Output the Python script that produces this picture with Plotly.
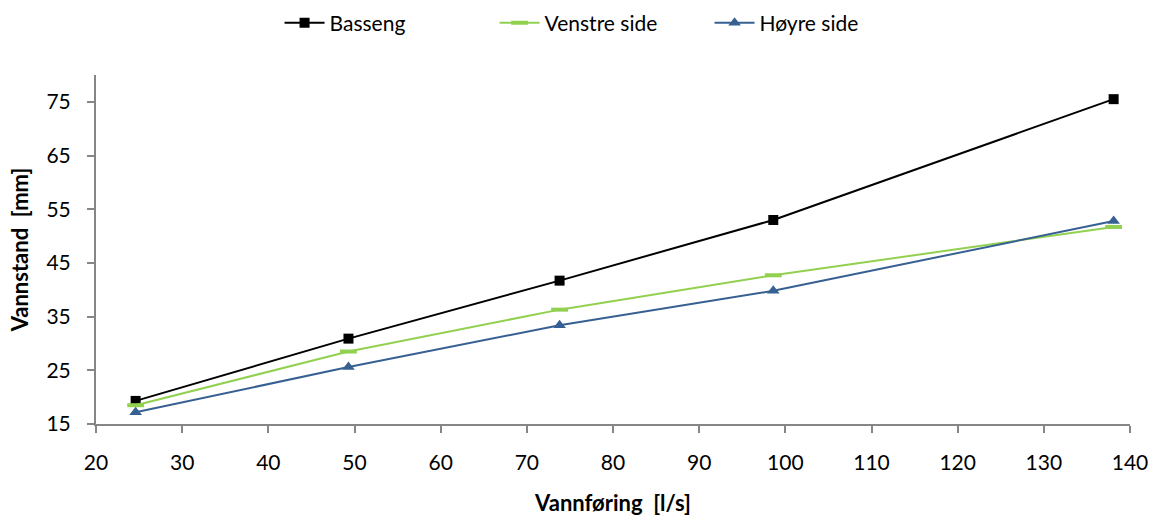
import plotly.graph_objects as go

# Vannføring (l/s) and measured water levels (mm)
vannforing = [24.6, 49.3, 73.8, 98.6, 138.1]
basseng = [19.3, 30.9, 41.7, 53.0, 75.5]
venstre_side = [18.5, 28.5, 36.3, 42.7, 51.7]
hoyre_side = [17.2, 25.6, 33.4, 39.8, 52.8]

FONT = "Lato"
AXIS_GREY = "#868686"

fig = go.Figure()
fig.add_trace(go.Scatter(
    x=vannforing, y=basseng, name="Basseng", mode="lines+markers",
    line=dict(color="#000000", width=2),
    marker=dict(symbol="square", size=10, color="#000000"),
))
fig.add_trace(go.Scatter(
    x=vannforing, y=venstre_side, name="Venstre side", mode="lines+markers",
    line=dict(color="#92D050", width=2),
    marker=dict(symbol="line-ew", size=12, color="#92D050",
                line=dict(color="#92D050", width=4)),
))
fig.add_trace(go.Scatter(
    x=vannforing, y=hoyre_side, name="Høyre side", mode="lines+markers",
    line=dict(color="#376092", width=2),
    marker=dict(symbol="triangle-up", size=11, color="#376092"),
))

fig.update_layout(
    width=1160, height=518,
    margin=dict(l=96, r=30, t=75, b=94, autoexpand=False),
    paper_bgcolor="white", plot_bgcolor="white",
    font=dict(family=FONT, size=21, color="#000000"),
    showlegend=True,
    legend=dict(orientation="h", xref="container", x=0.241, xanchor="left",
                yref="container", y=0.995, yanchor="top",
                font=dict(size=21), itemwidth=40, entrywidth=160,
                tracegroupgap=0),
    xaxis=dict(
        range=[20, 140], dtick=10, tick0=20, automargin=False,
        showline=True, linecolor=AXIS_GREY, linewidth=2,
        ticks="outside", ticklen=7, tickcolor=AXIS_GREY, tickwidth=2,
        showgrid=False, zeroline=False,
        tickfont=dict(size=21), ticklabelstandoff=12,
        title=dict(text="<b>Vannføring&nbsp; [l/s]</b>", font=dict(size=22), standoff=22),
    ),
    yaxis=dict(
        range=[15, 80], tickvals=[15, 25, 35, 45, 55, 65, 75], automargin=False,
        showline=True, linecolor=AXIS_GREY, linewidth=2,
        ticks="outside", ticklen=7, tickcolor=AXIS_GREY, tickwidth=2,
        showgrid=False, zeroline=False,
        tickfont=dict(size=21), ticklabelstandoff=12,
        title=dict(text="<b>Vannstand&nbsp; [mm]</b>", font=dict(size=22), standoff=12),
    ),
)

fig.write_html("out.html")
